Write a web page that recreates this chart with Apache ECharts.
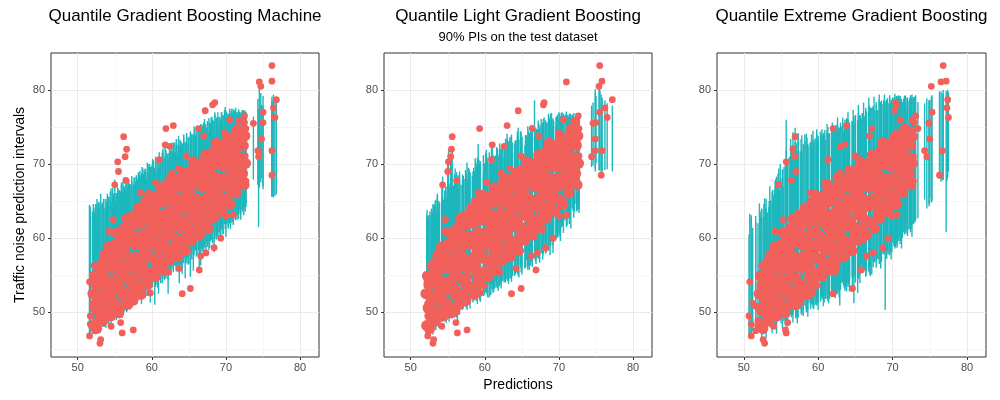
<!DOCTYPE html>
<html>
<head>
<meta charset="utf-8">
<script src="https://cdn.jsdelivr.net/npm/echarts@6/dist/echarts.min.js"></script>
<style>
  html, body { margin: 0; background: #fff; }
  #main { width: 1000px; height: 400px; }
</style>
</head>
<body>
<div id="main"></div>
<script>
// observed noise level of each test record (shared by the three models)
var observed = [
  54.1, 49.5, 48.4, 46.8, 56.3, 47.5, 54.6, 51.2, 50.0, 48.9,
  45.8, 46.3, 52.4, 55.1, 49.8, 57.6, 51.3, 60.9, 53.9, 48.1, 56.2, 62.5, 67.2, 50.6,
  53.0, 70.3, 69.0, 58.4, 48.6, 55.7, 47.2, 61.2, 73.7, 71.0, 67.8, 72.0, 52.6, 59.8, 56.4, 50.9,
  54.8, 60.7, 47.6, 57.2, 63.4, 52.3, 59.0, 55.6, 61.9, 66.1, 53.7, 58.3, 64.5, 56.9,
  60.3, 54.4, 65.2, 57.9, 62.7, 52.6, 59.3, 63.8, 56.2, 67.5, 61.4, 58.1, 70.6,
  57.0, 63.3, 66.7, 59.8, 72.6, 74.8, 61.6, 55.4, 72.4, 64.9, 68.8, 75.2,
  58.7, 65.6, 61.8, 69.4, 55.9, 63.7, 52.5, 67.3, 60.4, 71.1, 64.8,
  53.2, 66.2, 62.4, 69.7, 64.1, 74.8, 55.7, 57.6, 67.9, 73.8,
  77.2, 58.0, 65.8, 69.3, 62.7, 71.6, 78.0, 58.7, 78.3, 67.4, 73.0,
  66.3, 60.0, 72.1, 69.8, 74.2, 63.0, 67.9, 71.4, 76.0, 73.1, 69.2, 63.1,
  74.6, 70.3, 67.3, 72.8, 75.9, 69.5, 73.7, 71.0, 76.5, 74.8,
  75.5, 71.8, 71.0, 81.1, 80.5, 73.4, 77.0, 75.6, 83.3, 81.2, 77.6, 78.7, 76.3, 71.8, 68.5,
  50.8, 54.5, 48.7, 53.1, 50.3, 55.8, 52.4, 48.9, 54.9, 50.6,
  57.0, 51.6, 54.6, 49.5, 56.2, 53.5, 59.0, 51.3, 55.8, 52.3,
  49.9, 57.7, 54.8, 60.5, 52.8, 56.6, 50.0, 59.7, 54.5, 56.5,
  60.8, 53.0, 58.4, 50.8, 56.9, 60.1, 54.9, 63.1, 52.9, 56.6,
  54.8, 62.8, 57.7, 60.5, 52.9, 59.7, 54.7, 62.4, 57.6, 65.1,
  59.8, 54.5, 63.4, 57.4, 62.5, 53.6, 61.4, 59.3, 65.5, 56.9,
  58.6, 64.0, 55.7, 61.1, 65.9, 58.2, 63.2, 57.2, 62.5, 61.2,
  67.4, 58.0, 62.7, 60.7, 65.4, 57.0, 64.3, 60.3, 67.2, 62.9,
  59.2, 65.5, 62.5, 68.2, 61.1, 64.8, 58.8, 67.6, 63.9, 66.0,
  67.7, 59.9, 65.3, 62.8, 69.4, 64.4, 67.2, 59.7, 68.2, 62.9,
  64.3, 69.0, 61.2, 67.1, 63.3, 70.3, 66.6, 62.5, 69.0, 64.7,
  69.8, 63.3, 68.2, 65.8, 71.3, 62.5, 69.4, 67.3, 64.7, 72.6,
  68.2, 64.0, 71.2, 66.8, 72.6, 68.2, 64.3, 70.8, 66.8, 72.8,
  67.3, 71.9, 66.1, 70.8, 73.8, 69.1, 66.0, 73.4, 70.6, 68.0,
  72.9, 68.1, 71.1, 74.6, 68.1, 72.8, 70.2, 75.6, 71.1, 67.7
];

// Quantile Gradient Boosting Machine
var gbmPred = [
  51.6, 51.7, 51.7, 51.6, 52.2, 52.3, 52.6, 52.0, 52.8, 52.5,
  53.0, 53.1, 53.3, 53.5, 53.7, 53.9, 54.1, 54.2, 54.4, 54.5, 54.7, 54.8, 55.0, 54.9,
  55.2, 55.4, 55.5, 55.6, 55.8, 55.9, 56.0, 56.1, 56.2, 56.4, 56.5, 56.6, 56.7, 56.8, 56.9, 57.0,
  57.2, 57.3, 57.5, 57.6, 57.8, 57.9, 58.1, 58.2, 58.4, 58.5, 58.6, 58.8, 58.9, 59.0,
  59.1, 59.2, 59.4, 59.5, 59.7, 59.8, 60.0, 60.2, 60.4, 60.5, 60.7, 60.9, 61.0,
  61.2, 61.4, 61.5, 61.7, 61.8, 61.9, 62.1, 62.2, 62.4, 62.5, 62.7, 62.9,
  63.1, 63.3, 63.4, 63.6, 63.7, 63.9, 64.1, 64.3, 64.5, 64.7, 64.9,
  65.2, 65.4, 65.6, 65.8, 66.0, 66.3, 66.4, 66.6, 66.8, 67.0,
  67.2, 67.3, 67.5, 67.7, 67.9, 68.1, 68.2, 68.4, 68.5, 68.7, 68.9,
  69.1, 69.3, 69.4, 69.6, 69.8, 70.0, 70.1, 70.3, 70.5, 70.7, 70.9, 71.0,
  71.2, 71.4, 71.5, 71.7, 71.8, 72.0, 72.2, 72.4, 72.5, 72.7,
  73.7, 74.3, 74.4, 74.5, 74.7, 74.8, 75.0, 75.0, 76.2, 76.2, 76.4, 76.8, 76.6, 76.2, 76.2,
  52.0, 52.1, 52.3, 52.4, 52.6, 52.7, 52.8, 53.0, 53.1, 53.3,
  53.4, 53.5, 53.7, 53.8, 54.0, 54.1, 54.2, 54.4, 54.5, 54.7,
  54.8, 54.9, 55.1, 55.2, 55.4, 55.5, 55.6, 55.8, 55.9, 56.1,
  56.2, 56.3, 56.5, 56.6, 56.8, 56.9, 57.0, 57.2, 57.3, 57.5,
  57.6, 57.7, 57.9, 58.0, 58.2, 58.3, 58.4, 58.6, 58.7, 58.9,
  59.0, 59.1, 59.3, 59.4, 59.6, 59.7, 59.8, 60.0, 60.1, 60.3,
  60.4, 60.5, 60.7, 60.8, 61.0, 61.1, 61.2, 61.4, 61.5, 61.7,
  61.8, 61.9, 62.1, 62.2, 62.4, 62.5, 62.6, 62.8, 62.9, 63.1,
  63.2, 63.3, 63.5, 63.6, 63.8, 63.9, 64.0, 64.2, 64.3, 64.5,
  64.6, 64.7, 64.9, 65.0, 65.2, 65.3, 65.4, 65.6, 65.7, 65.9,
  66.0, 66.1, 66.3, 66.4, 66.6, 66.7, 66.8, 67.0, 67.1, 67.3,
  67.4, 67.5, 67.7, 67.8, 68.0, 68.1, 68.2, 68.4, 68.5, 68.7,
  68.8, 68.9, 69.1, 69.2, 69.4, 69.5, 69.6, 69.8, 69.9, 70.1,
  70.2, 70.3, 70.5, 70.6, 70.8, 70.9, 71.0, 71.2, 71.3, 71.5,
  71.6, 71.7, 71.9, 72.0, 72.2, 72.3, 72.4, 72.5, 72.6, 72.7
];
var gbmLo = [
  47.3, 47.0, 46.9, 47.2, 47.8, 47.6, 48.2, 47.4, 48.5, 48.0,
  47.2, 47.6, 48.8, 49.5, 48.0, 50.2, 48.4, 50.6, 49.1, 48.3, 49.8, 50.9, 51.8, 48.9,
  49.9, 50.6, 50.1, 50.4, 49.4, 51.0, 49.2, 51.3, 50.8, 51.5, 50.9, 51.7, 50.2, 51.9, 51.0, 50.3,
  51.4, 50.8, 51.9, 52.1, 51.2, 52.5, 51.6, 52.8, 52.0, 53.2, 51.1, 52.6, 53.4, 52.3,
  53.1, 52.2, 53.8, 52.9, 53.5, 51.3, 53.9, 54.2, 51.0, 54.6, 53.7, 52.5, 54.9,
  54.6, 53.9, 55.0, 54.3, 55.3, 54.8, 55.6, 52.5, 55.8, 55.1, 56.0, 55.4,
  56.3, 55.8, 56.6, 55.5, 53.9, 56.9, 55.2, 57.2, 54.6, 57.5, 56.4,
  54.8, 57.9, 55.6, 58.3, 57.5, 58.6, 56.0, 56.3, 58.9, 58.2,
  58.7, 57.9, 59.2, 58.4, 59.6, 60.1, 59.4, 58.1, 60.3, 59.8, 60.5,
  60.8, 59.7, 61.4, 60.5, 61.9, 60.2, 62.2, 61.6, 62.4, 62.0, 62.6, 61.8,
  62.8, 63.2, 62.5, 63.5, 63.9, 63.3, 64.1, 63.7, 64.3, 64.6,
  67.9, 67.2, 61.5, 66.8, 67.5, 68.1, 66.6, 67.0, 65.6, 65.8, 65.5, 65.9, 65.7, 66.2, 65.6,
  47.9, 47.1, 47.8, 47.0, 48.3, 48.0, 47.6, 49.1, 48.2, 48.9,
  48.8, 48.0, 48.7, 47.9, 49.2, 48.9, 48.5, 50.0, 49.1, 49.8,
  49.8, 49.0, 49.7, 48.9, 50.2, 49.9, 49.5, 51.0, 50.1, 50.8,
  50.9, 50.1, 50.8, 50.0, 51.3, 51.0, 50.6, 52.1, 51.2, 51.9,
  52.0, 51.2, 51.9, 51.1, 52.4, 52.1, 51.7, 53.2, 52.3, 53.0,
  53.1, 52.3, 53.0, 52.2, 53.5, 53.2, 52.8, 54.3, 53.4, 54.1,
  54.2, 53.4, 54.1, 53.3, 54.6, 54.3, 53.9, 55.4, 54.5, 55.2,
  55.3, 54.5, 55.2, 54.4, 55.7, 55.4, 55.0, 56.5, 55.6, 56.3,
  56.3, 55.5, 56.2, 55.4, 56.7, 56.4, 56.0, 57.5, 56.6, 57.3,
  57.4, 56.6, 57.3, 56.5, 57.8, 57.5, 57.1, 58.6, 57.7, 58.4,
  58.5, 57.7, 58.4, 57.6, 58.9, 58.6, 58.2, 59.7, 58.8, 59.5,
  59.6, 58.8, 59.5, 58.7, 60.0, 59.7, 59.3, 60.8, 59.9, 60.6,
  60.9, 60.1, 60.8, 60.0, 61.3, 61.0, 60.6, 62.1, 61.2, 61.9,
  62.1, 61.3, 62.0, 61.2, 62.5, 62.2, 61.8, 63.3, 62.4, 63.1,
  63.4, 62.6, 63.3, 62.5, 63.8, 63.5, 63.1, 64.5, 63.6, 64.2
];
var gbmHi = [
  64.5, 64.2, 63.8, 64.4, 64.0, 63.5, 64.6, 62.9, 64.1, 63.2,
  64.2, 63.0, 64.5, 65.3, 63.8, 64.9, 65.6, 64.4, 66.3, 65.0, 66.8, 65.4, 67.9, 65.8,
  66.0, 66.8, 65.7, 66.5, 64.9, 67.2, 66.1, 67.6, 67.0, 66.4, 67.9, 68.1, 66.7, 67.4, 68.0, 67.2,
  67.3, 67.8, 66.9, 68.2, 67.6, 68.5, 67.9, 68.8, 69.1, 68.3, 68.7, 69.4, 68.6, 69.0,
  69.4, 68.9, 70.2, 69.6, 70.0, 68.7, 69.8, 70.5, 69.2, 71.0, 70.3, 69.5, 71.6,
  70.8, 71.5, 72.1, 70.9, 72.8, 71.9, 71.3, 70.6, 72.5, 71.8, 72.9, 72.2,
  72.9, 73.4, 72.6, 73.8, 72.4, 73.1, 72.7, 73.6, 73.0, 74.2, 73.5,
  73.6, 74.1, 73.9, 74.7, 74.4, 75.0, 74.2, 74.8, 75.3, 75.6,
  75.4, 74.9, 75.8, 76.2, 75.5, 76.4, 76.0, 75.7, 76.7, 76.3, 77.0,
  76.4, 75.9, 77.0, 76.6, 77.3, 76.2, 77.1, 76.8, 77.5, 77.2, 76.9, 77.4,
  77.3, 77.0, 76.6, 77.4, 77.1, 76.8, 77.2, 76.5, 76.9, 76.4,
  76.4, 78.8, 77.5, 80.5, 79.6, 78.0, 79.2, 77.8, 79.1, 78.6, 79.4, 78.9, 79.0, 78.3, 77.9,
  63.6, 64.6, 63.4, 64.6, 65.3, 64.1, 64.9, 64.8, 66.0, 64.8,
  64.3, 65.3, 64.1, 65.3, 66.0, 64.8, 65.6, 65.5, 66.7, 65.5,
  65.1, 66.1, 64.9, 66.1, 66.8, 65.6, 66.4, 66.3, 67.5, 66.3,
  66.0, 67.0, 65.8, 67.0, 67.7, 66.5, 67.3, 67.2, 68.4, 67.2,
  67.2, 68.2, 67.0, 68.2, 68.9, 67.7, 68.5, 68.4, 69.6, 68.4,
  68.3, 69.3, 68.1, 69.3, 70.0, 68.8, 69.6, 69.5, 70.7, 69.5,
  69.4, 70.4, 69.2, 70.4, 71.1, 69.9, 70.7, 70.6, 71.8, 70.6,
  70.5, 71.5, 70.3, 71.5, 72.2, 71.0, 71.8, 71.7, 72.9, 71.7,
  71.6, 72.6, 71.4, 72.6, 73.3, 72.1, 72.9, 72.8, 74.0, 72.8,
  72.7, 73.7, 72.5, 73.7, 74.4, 73.2, 74.0, 73.9, 75.1, 73.9,
  73.7, 74.7, 73.5, 74.7, 75.4, 74.2, 75.0, 74.9, 76.1, 74.9,
  74.6, 75.6, 74.4, 75.6, 76.3, 75.1, 75.9, 75.8, 77.0, 75.8,
  75.3, 76.3, 75.1, 76.3, 77.0, 75.8, 76.6, 76.5, 77.7, 76.5,
  75.8, 76.8, 75.6, 76.8, 77.5, 76.3, 77.1, 77.0, 77.6, 77.0,
  76.0, 77.0, 75.8, 77.0, 77.3, 76.5, 77.3, 77.1, 77.2, 77.0
];

// Quantile Light Gradient Boosting
var lgbPred = [
  52.2, 52.3, 52.2, 52.3, 52.6, 52.4, 52.8, 52.3, 53.0, 52.6,
  53.0, 53.1, 53.4, 53.6, 53.5, 54.2, 53.9, 54.6, 54.3, 54.2, 54.9, 54.7, 54.3, 55.2,
  55.3, 55.1, 55.0, 55.9, 56.1, 56.2, 56.3, 56.0, 55.6, 55.4, 56.2, 55.5, 57.0, 56.6, 57.1, 56.8,
  57.4, 57.0, 57.6, 57.9, 57.6, 58.3, 58.0, 58.5, 58.7, 59.1, 58.4, 59.0, 58.8, 59.2,
  59.4, 59.3, 59.0, 59.9, 59.8, 59.4, 60.3, 60.1, 60.6, 60.2, 61.0, 61.1, 60.9,
  61.5, 61.2, 61.7, 62.0, 61.0, 59.3, 62.4, 62.0, 62.6, 62.8, 62.2, 63.0,
  63.5, 63.2, 63.7, 63.4, 64.2, 64.0, 63.6, 64.4, 64.5, 64.9, 65.0,
  64.9, 65.5, 65.8, 66.0, 66.2, 66.4, 66.9, 66.3, 66.7, 67.3,
  64.5, 67.1, 67.6, 67.8, 67.9, 68.2, 67.9, 68.2, 68.0, 68.6, 68.9,
  69.3, 69.2, 69.6, 69.8, 70.0, 70.1, 70.3, 70.4, 70.6, 70.8, 71.0, 71.0,
  71.3, 71.5, 71.4, 71.8, 72.0, 72.1, 72.3, 72.4, 72.6, 72.7,
  74.6, 74.9, 74.4, 71.0, 75.4, 74.9, 75.5, 75.0, 75.5, 75.8, 76.2, 77.2, 76.5, 75.8, 75.7,
  52.3, 52.2, 52.8, 52.4, 52.2, 52.9, 53.4, 52.9, 53.2, 53.0,
  53.7, 53.3, 54.2, 53.8, 53.6, 54.3, 54.8, 54.3, 54.6, 54.4,
  55.1, 54.7, 55.6, 55.2, 55.0, 55.7, 56.2, 55.7, 56.0, 55.8,
  56.5, 56.1, 57.0, 56.6, 56.4, 57.1, 57.6, 57.1, 57.4, 57.2,
  57.9, 57.5, 58.4, 58.0, 57.8, 58.5, 59.0, 58.5, 58.8, 58.6,
  59.3, 58.9, 59.8, 59.4, 59.2, 59.9, 60.4, 59.9, 60.2, 60.0,
  60.7, 60.3, 61.2, 60.8, 60.6, 61.3, 61.8, 61.3, 61.6, 61.4,
  62.1, 61.7, 62.6, 62.2, 62.0, 62.7, 63.2, 62.7, 63.0, 62.8,
  63.5, 63.1, 64.0, 63.6, 63.4, 64.1, 64.6, 64.1, 64.4, 64.2,
  64.9, 64.5, 65.4, 65.0, 64.8, 65.5, 66.0, 65.5, 65.8, 65.6,
  66.3, 65.9, 66.8, 66.4, 66.2, 66.9, 67.4, 66.9, 67.2, 67.0,
  67.7, 67.3, 68.2, 67.8, 67.6, 68.3, 68.8, 68.3, 68.6, 68.4,
  69.1, 68.7, 69.6, 69.2, 69.0, 69.7, 70.2, 69.7, 70.0, 69.8,
  70.5, 70.1, 71.0, 70.6, 70.4, 71.1, 71.6, 71.1, 71.4, 71.2,
  71.9, 71.5, 72.4, 72.0, 71.8, 72.5, 72.7, 72.4, 72.7, 72.4
];
var lgbLo = [
  47.0, 46.9, 47.3, 47.2, 47.9, 47.6, 48.1, 47.4, 48.4, 47.8,
  47.0, 47.4, 48.6, 49.3, 48.2, 50.1, 48.5, 51.0, 49.0, 48.7, 50.0, 50.4, 51.6, 49.1,
  49.6, 50.4, 50.0, 50.9, 49.5, 51.0, 48.8, 51.2, 50.6, 50.2, 51.4, 50.5, 51.8, 51.1, 52.0, 51.3,
  50.7, 50.3, 51.0, 51.6, 50.9, 52.0, 51.3, 52.4, 52.6, 53.0, 51.8, 52.9, 52.2, 53.1,
  52.4, 51.9, 52.8, 52.3, 53.0, 51.5, 53.2, 52.7, 52.0, 53.5, 53.1, 52.6, 53.8,
  53.3, 52.8, 53.6, 53.9, 53.1, 51.7, 54.2, 53.5, 54.5, 54.0, 53.8, 54.6,
  54.5, 54.2, 54.9, 54.6, 55.3, 55.0, 54.8, 55.6, 54.9, 56.0, 55.7,
  55.4, 56.0, 55.7, 56.6, 56.3, 57.0, 56.5, 56.8, 57.3, 57.6,
  55.9, 57.4, 58.0, 57.6, 58.3, 58.6, 57.9, 58.1, 58.8, 58.4, 59.0,
  59.6, 58.0, 60.5, 60.1, 61.0, 60.6, 61.4, 61.8, 62.0, 62.4, 62.8, 63.3,
  63.3, 63.8, 63.0, 64.0, 64.3, 63.6, 64.6, 64.2, 64.8, 64.5,
  69.8, 69.4, 69.6, 63.4, 69.2, 69.0, 69.3, 70.1, 69.1, 69.0, 69.2, 69.0, 69.3, 69.0, 68.9,
  47.9, 47.1, 47.8, 47.0, 48.3, 48.0, 47.6, 49.1, 48.2, 48.9,
  48.8, 48.0, 48.7, 47.9, 49.2, 48.9, 48.5, 50.0, 49.1, 49.8,
  49.6, 48.8, 49.5, 48.7, 50.0, 49.7, 49.3, 50.8, 49.9, 50.6,
  50.6, 49.8, 50.5, 49.7, 51.0, 50.7, 50.3, 51.8, 50.9, 51.6,
  51.4, 50.6, 51.3, 50.5, 51.8, 51.5, 51.1, 52.6, 51.7, 52.4,
  52.3, 51.5, 52.2, 51.4, 52.7, 52.4, 52.0, 53.5, 52.6, 53.3,
  53.2, 52.4, 53.1, 52.3, 53.6, 53.3, 52.9, 54.4, 53.5, 54.2,
  54.1, 53.3, 54.0, 53.2, 54.5, 54.2, 53.8, 55.3, 54.4, 55.1,
  55.0, 54.2, 54.9, 54.1, 55.4, 55.1, 54.7, 56.2, 55.3, 56.0,
  56.0, 55.2, 55.9, 55.1, 56.4, 56.1, 55.7, 57.2, 56.3, 57.0,
  57.0, 56.2, 56.9, 56.1, 57.4, 57.1, 56.7, 58.2, 57.3, 58.0,
  58.0, 57.2, 57.9, 57.1, 58.4, 58.1, 57.7, 59.2, 58.3, 59.0,
  59.9, 59.1, 59.8, 59.0, 60.3, 60.0, 59.6, 61.1, 60.2, 60.9,
  61.6, 60.8, 61.5, 60.7, 62.0, 61.7, 61.3, 62.8, 61.9, 62.6,
  63.7, 62.9, 63.6, 62.8, 64.1, 63.8, 63.4, 64.8, 63.9, 64.5
];
var lgbHi = [
  62.6, 62.2, 62.5, 61.8, 63.6, 62.9, 64.0, 61.5, 64.6, 63.1,
  63.5, 64.4, 65.2, 66.0, 63.9, 67.6, 64.8, 66.4, 65.7, 64.6, 67.0, 66.2, 68.3, 66.6,
  67.4, 71.8, 70.2, 68.6, 66.8, 68.1, 67.5, 69.4, 72.3, 71.0, 68.9, 70.6, 67.8, 69.0, 68.4, 67.2,
  68.0, 68.6, 67.5, 69.3, 70.2, 68.4, 68.9, 69.5, 70.8, 72.7, 69.0, 70.1, 69.6, 70.4,
  70.0, 69.5, 70.9, 69.8, 71.2, 70.4, 70.6, 71.5, 70.1, 71.9, 70.7, 71.3, 72.4,
  71.2, 70.8, 71.9, 72.0, 72.6, 69.9, 72.3, 71.6, 72.8, 73.4, 72.1, 74.1,
  72.6, 73.1, 72.9, 73.5, 73.2, 72.8, 74.0, 73.7, 73.3, 74.4, 73.6,
  73.1, 73.9, 73.5, 74.2, 74.6, 74.0, 74.8, 75.3, 78.6, 75.1,
  74.9, 74.6, 75.2, 75.6, 75.0, 75.9, 76.1, 75.4, 76.3, 76.6, 76.8,
  75.8, 76.0, 76.4, 76.7, 76.2, 76.9, 76.5, 77.0, 76.8, 76.6, 77.1, 76.7,
  76.4, 76.8, 76.1, 76.5, 76.9, 76.2, 76.7, 76.0, 76.3, 75.8,
  78.3, 79.6, 77.9, 76.9, 80.7, 80.1, 80.4, 79.2, 79.8, 79.0, 78.6, 77.9, 78.2, 78.8, 79.4,
  62.1, 63.1, 61.9, 63.1, 63.8, 62.6, 63.4, 63.3, 64.5, 63.3,
  64.0, 65.0, 63.8, 65.0, 65.7, 64.5, 65.3, 65.2, 66.4, 65.2,
  65.9, 66.9, 65.7, 66.9, 67.6, 66.4, 67.2, 67.1, 68.3, 67.1,
  66.8, 67.8, 66.6, 67.8, 68.5, 67.3, 68.1, 68.0, 69.2, 68.0,
  67.8, 68.8, 67.6, 68.8, 69.5, 68.3, 69.1, 69.0, 70.2, 69.0,
  68.9, 69.9, 68.7, 69.9, 70.6, 69.4, 70.2, 70.1, 71.3, 70.1,
  69.9, 70.9, 69.7, 70.9, 71.6, 70.4, 71.2, 71.1, 72.3, 71.1,
  71.1, 72.1, 70.9, 72.1, 72.8, 71.6, 72.4, 72.3, 73.5, 72.3,
  72.0, 73.0, 71.8, 73.0, 73.7, 72.5, 73.3, 73.2, 74.4, 73.2,
  72.7, 73.7, 72.5, 73.7, 74.4, 73.2, 74.0, 73.9, 75.1, 73.9,
  73.5, 74.5, 73.3, 74.5, 75.2, 74.0, 74.8, 74.7, 75.9, 74.7,
  74.4, 75.4, 74.2, 75.4, 76.1, 74.9, 75.7, 75.6, 76.8, 75.6,
  75.2, 76.2, 75.0, 76.2, 76.9, 75.7, 76.5, 76.4, 77.0, 76.4,
  75.4, 76.4, 75.2, 76.4, 76.9, 75.9, 76.7, 76.6, 76.8, 76.6,
  75.0, 76.0, 74.8, 76.0, 76.7, 75.5, 76.3, 76.1, 76.4, 76.0
];

// Quantile Extreme Gradient Boosting
var xgbPred = [
  50.8, 50.7, 51.0, 51.0, 52.4, 51.6, 52.7, 51.2, 52.2, 51.9,
  52.8, 52.6, 53.4, 53.9, 53.2, 54.3, 53.8, 54.2, 54.6, 54.0, 55.0, 55.3, 54.7, 54.5,
  55.4, 55.7, 57.0, 56.1, 55.9, 56.3, 55.7, 56.5, 56.9, 56.9, 56.4, 56.6, 56.5, 57.3, 56.8, 56.6,
  57.0, 57.8, 55.6, 58.0, 57.3, 57.7, 58.4, 58.6, 58.2, 58.9, 59.1, 58.5, 59.3, 59.4,
  59.6, 59.0, 59.8, 59.4, 60.0, 59.3, 60.3, 60.6, 60.5, 60.9, 61.0, 60.7, 61.3,
  61.5, 61.8, 61.3, 62.0, 63.6, 62.0, 62.4, 62.3, 63.0, 62.6, 62.9, 63.8,
  63.5, 63.6, 63.8, 64.0, 62.5, 64.2, 62.0, 64.8, 64.6, 65.0, 65.3,
  64.6, 65.7, 65.9, 66.4, 66.1, 67.2, 65.8, 66.5, 67.0, 66.9,
  70.3, 67.4, 67.8, 68.0, 68.3, 68.5, 70.6, 68.7, 70.4, 69.0, 69.3,
  69.6, 69.4, 70.0, 70.2, 70.5, 69.9, 70.7, 70.8, 71.0, 71.3, 71.5, 70.6,
  71.8, 72.0, 71.6, 72.4, 72.6, 72.2, 73.0, 72.8, 73.1, 73.4,
  74.9, 74.3, 74.6, 76.5, 75.2, 75.0, 75.3, 74.9, 76.8, 77.2, 77.3, 77.4, 77.5, 76.7, 76.3,
  51.6, 52.4, 52.2, 53.0, 52.1, 52.9, 52.8, 53.4, 52.8, 53.4,
  53.0, 53.8, 53.6, 54.4, 53.5, 54.3, 54.2, 54.8, 54.2, 54.8,
  54.4, 55.2, 55.0, 55.8, 54.9, 55.7, 55.6, 56.2, 55.6, 56.2,
  55.8, 56.6, 56.4, 57.2, 56.3, 57.1, 57.0, 57.6, 57.0, 57.6,
  57.2, 58.0, 57.8, 58.6, 57.7, 58.5, 58.4, 59.0, 58.4, 59.0,
  58.6, 59.4, 59.2, 60.0, 59.1, 59.9, 59.8, 60.4, 59.8, 60.4,
  60.0, 60.8, 60.6, 61.4, 60.5, 61.3, 61.2, 61.8, 61.2, 61.8,
  61.4, 62.2, 62.0, 62.8, 61.9, 62.7, 62.6, 63.2, 62.6, 63.2,
  62.8, 63.6, 63.4, 64.2, 63.3, 64.1, 64.0, 64.6, 64.0, 64.6,
  64.2, 65.0, 64.8, 65.6, 64.7, 65.5, 65.4, 66.0, 65.4, 66.0,
  65.6, 66.4, 66.2, 67.0, 66.1, 66.9, 66.8, 67.4, 66.8, 67.4,
  67.0, 67.8, 67.6, 68.4, 67.5, 68.3, 68.2, 68.8, 68.2, 68.8,
  68.4, 69.2, 69.0, 69.8, 68.9, 69.7, 69.6, 70.2, 69.6, 70.2,
  69.8, 70.6, 70.4, 71.2, 70.3, 71.1, 71.0, 71.6, 71.0, 71.6,
  71.2, 72.0, 71.8, 72.6, 71.7, 72.5, 72.4, 72.9, 72.3, 72.8
];
var xgbLo = [
  47.0, 46.7, 47.2, 46.8, 48.0, 47.4, 48.3, 47.5, 47.9, 47.6,
  47.3, 47.0, 48.4, 49.6, 47.8, 49.9, 48.2, 50.3, 49.5, 48.1, 49.4, 50.6, 51.0, 48.7,
  48.8, 49.1, 50.0, 49.4, 48.9, 50.2, 48.6, 49.8, 50.5, 50.7, 49.7, 50.1, 49.9, 50.8, 50.3, 49.6,
  49.4, 49.6, 48.2, 50.0, 49.3, 49.8, 50.5, 50.2, 50.9, 51.2, 51.0, 50.4, 51.5, 51.8,
  51.0, 50.4, 51.6, 50.9, 51.9, 50.6, 51.4, 52.0, 51.7, 52.3, 51.8, 50.8, 52.5,
  51.8, 52.0, 51.5, 52.3, 53.4, 52.1, 52.6, 51.9, 53.0, 52.7, 50.9, 53.6,
  53.2, 53.6, 52.8, 54.0, 52.4, 54.3, 52.1, 51.2, 54.6, 54.9, 52.6,
  53.0, 55.4, 55.9, 54.8, 56.2, 55.1, 56.4, 55.6, 56.8, 55.2,
  58.6, 56.1, 56.9, 57.2, 57.5, 56.8, 59.1, 57.9, 58.8, 50.3, 58.2,
  58.5, 57.8, 59.4, 58.9, 59.8, 58.1, 60.2, 59.6, 60.5, 60.0, 60.8, 59.3,
  60.6, 61.0, 60.9, 61.4, 61.8, 61.2, 62.1, 61.9, 62.4, 62.7,
  64.3, 65.2, 64.0, 67.6, 64.8, 65.5, 65.0, 64.6, 67.9, 60.8, 67.7, 68.1, 69.0, 67.8, 68.0,
  47.4, 46.6, 47.3, 46.5, 47.8, 47.5, 47.1, 48.6, 47.7, 48.4,
  48.0, 47.2, 47.9, 47.1, 48.4, 48.1, 47.7, 49.2, 48.3, 49.0,
  48.6, 47.8, 48.5, 47.7, 49.0, 48.7, 48.3, 49.8, 48.9, 49.6,
  49.4, 48.6, 49.3, 48.5, 49.8, 49.5, 49.1, 50.6, 49.7, 50.4,
  50.3, 49.5, 50.2, 49.4, 50.7, 50.4, 50.0, 51.5, 50.6, 51.3,
  51.2, 50.4, 51.1, 50.3, 51.6, 51.3, 50.9, 52.4, 51.5, 52.2,
  52.1, 51.3, 52.0, 51.2, 52.5, 52.2, 51.8, 53.3, 52.4, 53.1,
  52.9, 52.1, 52.8, 52.0, 53.3, 53.0, 52.6, 54.1, 53.2, 53.9,
  53.7, 52.9, 53.6, 52.8, 54.1, 53.8, 53.4, 54.9, 54.0, 54.7,
  54.8, 54.0, 54.7, 53.9, 55.2, 54.9, 54.5, 56.0, 55.1, 55.8,
  55.8, 55.0, 55.7, 54.9, 56.2, 55.9, 55.5, 57.0, 56.1, 56.8,
  56.8, 56.0, 56.7, 55.9, 57.2, 56.9, 56.5, 58.0, 57.1, 57.8,
  58.0, 57.2, 57.9, 57.1, 58.4, 58.1, 57.7, 59.2, 58.3, 59.0,
  59.5, 58.7, 59.4, 58.6, 59.9, 59.6, 59.2, 60.7, 59.8, 60.5,
  61.1, 60.3, 61.0, 60.2, 61.5, 61.2, 60.8, 62.2, 61.3, 61.9
];
var xgbHi = [
  63.3, 60.5, 62.8, 63.1, 63.9, 62.2, 64.6, 61.4, 63.6, 62.0,
  64.0, 62.8, 65.0, 66.5, 63.5, 68.0, 64.9, 66.2, 68.7, 65.8, 67.5, 66.9, 69.4, 67.1,
  69.6, 76.0, 72.8, 71.0, 70.1, 73.4, 71.8, 72.5, 74.9, 73.0, 72.2, 74.3, 71.4, 73.8, 70.9, 72.0,
  72.6, 73.9, 70.5, 72.0, 74.2, 71.5, 73.1, 72.4, 74.0, 72.9, 71.8, 73.6, 74.5, 73.0,
  73.5, 72.8, 74.1, 72.9, 73.8, 73.2, 74.4, 73.6, 74.0, 74.6, 73.3, 74.2, 75.0,
  74.2, 74.8, 73.9, 75.0, 76.0, 74.6, 75.3, 74.4, 75.6, 75.1, 74.9, 76.2,
  75.4, 74.9, 75.7, 76.1, 74.6, 75.3, 74.9, 76.4, 75.8, 76.6, 75.9,
  75.8, 76.3, 76.9, 77.2, 76.6, 77.6, 76.0, 77.0, 77.4, 77.8,
  79.0, 77.6, 78.0, 77.3, 78.3, 78.6, 79.2, 78.1, 78.8, 78.5, 78.9,
  78.7, 78.2, 79.0, 78.5, 79.2, 78.6, 78.9, 79.3, 79.1, 78.4, 78.8, 79.0,
  79.0, 78.6, 79.2, 78.8, 79.4, 78.5, 79.1, 78.7, 79.3, 78.4,
  78.5, 78.2, 78.9, 79.8, 79.1, 78.6, 79.3, 78.7, 80.0, 79.9, 79.6, 80.0, 79.7, 79.5, 79.8,
  63.0, 64.0, 62.8, 64.0, 64.7, 63.5, 64.3, 64.2, 65.4, 64.2,
  65.3, 66.3, 65.1, 66.3, 67.0, 65.8, 66.6, 66.5, 67.7, 66.5,
  68.3, 69.3, 68.1, 69.3, 70.0, 68.8, 69.6, 69.5, 70.7, 69.5,
  70.5, 71.5, 70.3, 71.5, 72.2, 71.0, 71.8, 71.7, 72.9, 71.7,
  71.7, 72.7, 71.5, 72.7, 73.4, 72.2, 73.0, 72.9, 74.1, 72.9,
  72.3, 73.3, 72.1, 73.3, 74.0, 72.8, 73.6, 73.5, 74.7, 73.5,
  73.0, 74.0, 72.8, 74.0, 74.7, 73.5, 74.3, 74.2, 75.4, 74.2,
  73.9, 74.9, 73.7, 74.9, 75.6, 74.4, 75.2, 75.1, 76.3, 75.1,
  74.6, 75.6, 74.4, 75.6, 76.3, 75.1, 75.9, 75.8, 77.0, 75.8,
  75.6, 76.6, 75.4, 76.6, 77.3, 76.1, 76.9, 76.8, 78.0, 76.8,
  76.6, 77.6, 76.4, 77.6, 78.3, 77.1, 77.9, 77.8, 79.0, 77.8,
  77.4, 78.4, 77.2, 78.4, 79.1, 77.9, 78.7, 78.6, 79.4, 78.6,
  77.7, 78.7, 77.5, 78.7, 79.4, 78.2, 79.0, 78.9, 79.3, 78.9,
  77.8, 78.8, 77.6, 78.8, 79.5, 78.3, 79.1, 79.0, 79.2, 79.0,
  78.0, 79.0, 77.8, 79.0, 79.3, 78.5, 79.3, 79.1, 78.9, 79.0
];

// dense core of observations, where the dots of all three panels merge into one mass
var densePred = [
  52.05, 52.15, 52.25, 52.35, 52.45, 52.55, 52.65, 52.75, 52.85, 52.95,
  53.05, 53.15, 53.25, 53.35, 53.45, 53.55, 53.65, 53.75, 53.85, 53.95,
  54.05, 54.15, 54.25, 54.35, 54.45, 54.55, 54.65, 54.75, 54.85, 54.95,
  55.05, 55.15, 55.25, 55.35, 55.45, 55.55, 55.65, 55.75, 55.85, 55.95,
  56.05, 56.15, 56.25, 56.35, 56.45, 56.55, 56.65, 56.75, 56.85, 56.95,
  57.05, 57.15, 57.25, 57.35, 57.45, 57.55, 57.65, 57.75, 57.85, 57.95,
  58.05, 58.15, 58.25, 58.35, 58.45, 58.55, 58.65, 58.75, 58.85, 58.95,
  59.05, 59.15, 59.25, 59.35, 59.45, 59.55, 59.65, 59.75, 59.85, 59.95,
  60.05, 60.15, 60.25, 60.35, 60.45, 60.55, 60.65, 60.75, 60.85, 60.95,
  61.05, 61.15, 61.25, 61.35, 61.45, 61.55, 61.65, 61.75, 61.85, 61.95,
  62.05, 62.15, 62.25, 62.35, 62.45, 62.55, 62.65, 62.75, 62.85, 62.95,
  63.05, 63.15, 63.25, 63.35, 63.45, 63.55, 63.65, 63.75, 63.85, 63.95,
  64.05, 64.15, 64.25, 64.35, 64.45, 64.55, 64.65, 64.75, 64.85, 64.95,
  65.05, 65.15, 65.25, 65.35, 65.45, 65.55, 65.65, 65.75, 65.85, 65.95,
  66.05, 66.15, 66.25, 66.35, 66.45, 66.55, 66.65, 66.75, 66.85, 66.95,
  67.05, 67.15, 67.25, 67.35, 67.45, 67.55, 67.65, 67.75, 67.85, 67.95,
  68.05, 68.15, 68.25, 68.35, 68.45, 68.55, 68.65, 68.75, 68.85, 68.95,
  69.05, 69.15, 69.25, 69.35, 69.45, 69.55, 69.65, 69.75, 69.85, 69.95,
  70.05, 70.15, 70.25, 70.35, 70.45, 70.55, 70.65, 70.75, 70.85, 70.95,
  71.05, 71.15, 71.25, 71.35, 71.45, 71.55, 71.65, 71.75, 71.85, 71.95,
  72.05, 72.15, 72.25, 72.35, 72.45, 72.55, 72.65
];
var denseObserved = [
  52.5, 48.2, 54.9, 50.6, 53.7, 47.8, 52.1, 54.6, 50.1, 51.8,
  49.7, 53.9, 56.6, 48.8, 55.1, 51.6, 57.7, 52.8, 56.2, 50.1,
  54.3, 58.8, 51.5, 56.6, 49.5, 58.1, 53.3, 55.9, 51.3, 59.1,
  57.2, 50.7, 60.7, 54.2, 58.8, 49.9, 56.3, 60.0, 53.2, 55.7,
  52.3, 57.7, 61.3, 51.0, 59.3, 54.7, 62.6, 56.1, 60.6, 52.5,
  57.4, 62.7, 54.0, 60.0, 51.6, 61.8, 56.0, 59.1, 53.6, 62.8,
  60.3, 53.3, 64.1, 57.1, 62.0, 52.4, 59.3, 63.3, 55.9, 58.6,
  55.2, 60.8, 64.5, 53.8, 62.4, 57.6, 65.8, 59.1, 63.8, 55.4,
  60.4, 65.5, 57.1, 62.9, 54.8, 64.6, 59.1, 62.0, 56.8, 65.7,
  63.2, 56.5, 66.8, 60.1, 64.9, 55.7, 62.3, 66.1, 59.1, 61.6,
  58.2, 63.4, 66.8, 57.0, 64.9, 60.5, 68.1, 61.9, 66.2, 58.5,
  62.9, 67.8, 59.9, 63.4, 57.5, 67.0, 61.6, 64.5, 59.5, 68.0,
  65.4, 59.1, 68.8, 62.5, 66.9, 58.3, 64.5, 68.1, 61.5, 64.0,
  60.8, 65.8, 69.0, 59.7, 67.2, 63.0, 70.3, 64.4, 68.5, 61.2,
  65.3, 69.9, 62.5, 67.6, 60.4, 69.2, 64.3, 66.9, 62.2, 70.2,
  68.0, 62.0, 71.2, 65.3, 69.5, 61.3, 67.2, 70.6, 64.4, 66.7,
  63.8, 68.5, 71.6, 62.8, 69.9, 65.9, 72.8, 67.2, 71.1, 64.2,
  68.1, 72.4, 65.5, 70.2, 63.6, 71.7, 67.2, 69.6, 65.3, 72.7,
  70.6, 65.2, 73.6, 68.2, 72.0, 64.6, 70.0, 73.1, 67.4, 69.5,
  67.0, 71.0, 73.6, 66.1, 72.2, 68.9, 74.7, 70.0, 73.3, 67.4,
  70.8, 74.2, 68.7, 72.5, 67.2, 73.8, 70.1
];

var majorTicks = [50, 60, 70, 80];
var minorTicks = [45, 55, 65, 75];
var panelTitles = ['Quantile Gradient Boosting Machine', 'Quantile Light Gradient Boosting', 'Quantile Extreme Gradient Boosting'];

var FONT = '"Liberation Sans", Arial, Helvetica, sans-serif';
var RED = '#F2605B';
var chart = echarts.init(document.getElementById('main'));

var panels = [
  { pred: gbmPred, lo: gbmLo, hi: gbmHi, left: 51, width: 268 },
  { pred: lgbPred, lo: lgbLo, hi: lgbHi, left: 384, width: 268 },
  { pred: xgbPred, lo: xgbLo, hi: xgbHi, left: 717, width: 269 }
];

var grid = [], xAxis = [], yAxis = [], series = [];

// two axes per dimension: one carries the minor grid lines, the other ticks, labels and major lines
function axisPair(dim, gi, min, max) {
  var isX = dim === 'x';
  var pos = isX ? 'bottom' : 'left';
  var minor = {
    gridIndex: gi, type: 'value', min: min, max: max, position: pos,
    axisLine: { show: false },
    axisTick: { show: false, customValues: minorTicks },
    axisLabel: { show: false, customValues: minorTicks },
    splitLine: { show: true, lineStyle: { color: '#f2f2f2', width: 0.6 } }
  };
  var main = {
    gridIndex: gi, type: 'value', min: min, max: max, position: pos,
    axisLine: { show: false },
    axisTick: { show: true, length: 3, customValues: majorTicks, lineStyle: { color: '#333', width: 1 } },
    axisLabel: { customValues: majorTicks, color: '#4d4d4d', fontSize: 11, fontFamily: FONT, margin: isX ? 5 : 6 },
    splitLine: { show: true, lineStyle: { color: '#ebebeb', width: 1 } }
  };
  return [minor, main];
}

var densePoints = densePred.map(function (x, k) { return [x, denseObserved[k]]; });

panels.forEach(function (p, i) {
  grid.push({ left: p.left, top: 53, width: p.width, height: 304, show: true, borderColor: '#333', borderWidth: 1 });
  axisPair('x', i, 46.4, 82.55).forEach(function (a) { xAxis.push(a); });
  axisPair('y', i, 43.95, 85).forEach(function (a) { yAxis.push(a); });
  var ai = 2 * i + 1;
  series.push({
    type: 'custom', xAxisIndex: ai, yAxisIndex: ai, z: 2,
    encode: { x: 0, y: [1, 2] },
    data: p.pred.map(function (x, k) { return [x, p.lo[k], p.hi[k]]; }),
    renderItem: function (params, api) {
      var a = api.coord([api.value(0), api.value(1)]);
      var b = api.coord([api.value(0), api.value(2)]);
      return { type: 'line', shape: { x1: a[0], y1: a[1], x2: b[0], y2: b[1] }, style: { stroke: '#1DB7BD', lineWidth: 1.4 } };
    }
  });
  // overlapping dots of the crowded core read as one red mass
  series.push({
    type: 'scatter', xAxisIndex: ai, yAxisIndex: ai, z: 3,
    symbolSize: 11,
    itemStyle: { color: RED, opacity: 1 },
    data: densePoints
  });
  series.push({
    type: 'scatter', xAxisIndex: ai, yAxisIndex: ai, z: 4,
    symbolSize: 6.8,
    itemStyle: { color: RED, opacity: 1 },
    data: p.pred.map(function (x, k) { return [x, observed[k]]; })
  });
});

var centers = panels.map(function (p) { return p.left + p.width / 2; });
var graphic = centers.map(function (cx, i) {
  return { type: 'text', x: cx, y: 16, style: { text: panelTitles[i], textAlign: 'center', textVerticalAlign: 'middle', fontSize: 17, fontFamily: FONT, fill: '#000' } };
});
graphic.push({ type: 'text', x: centers[1], y: 37, style: { text: '90% PIs on the test dataset', textAlign: 'center', textVerticalAlign: 'middle', fontSize: 13, fontFamily: FONT, fill: '#000' } });
graphic.push({ type: 'text', x: centers[1], y: 385, style: { text: 'Predictions', textAlign: 'center', textVerticalAlign: 'middle', fontSize: 14, fontFamily: FONT, fill: '#000' } });
graphic.push({ type: 'text', x: 20, y: 205, rotation: Math.PI / 2, style: { text: 'Traffic noise prediction intervals', textAlign: 'center', textVerticalAlign: 'middle', fontSize: 14, fontFamily: FONT, fill: '#000' } });

chart.setOption({
  animation: false,
  backgroundColor: '#fff',
  grid: grid,
  xAxis: xAxis,
  yAxis: yAxis,
  series: series,
  graphic: graphic
});
</script>
</body>
</html>
